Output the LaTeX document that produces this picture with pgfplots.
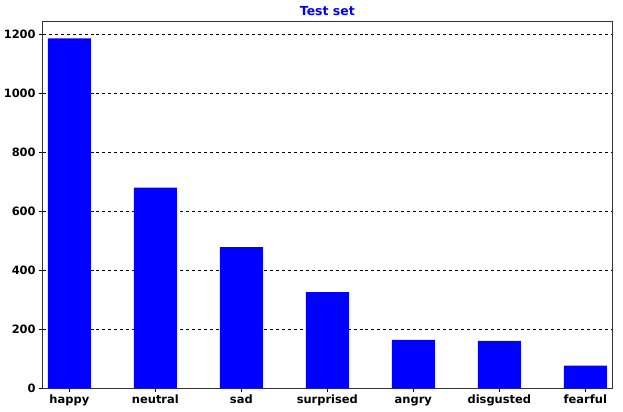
\documentclass[border=0pt]{standalone}
\usepackage{pgfplots}
\pgfplotsset{compat=1.18}
\usepackage{fontspec}
\setmainfont{DejaVu Sans}

\begin{document}
\begin{tikzpicture}
\useasboundingbox (-42.7bp,-23.7bp) rectangle (580.3bp,388.3bp);
\begin{axis}[
    at={(0,0)}, anchor=south west,
    scale only axis,
    width=569.3bp, height=367.3bp,
    xmin=-0.31, xmax=6.31,
    ymin=0, ymax=1244,
    xtick=data,
    xticklabels={happy,neutral,sad,surprised,angry,disgusted,fearful},
    ytick={0,200,400,600,800,1000,1200},
    xtick pos=bottom, ytick pos=left,
    ymajorgrids,
    grid style={black, dashed, line width=0.8pt},
    axis line style={black!80, line width=0.8pt},
    tick align=outside,
    major tick length=3.5bp,
    tick style={black, line width=0.8pt},
    tick label style={font=\fontsize{11.5}{13}\selectfont\bfseries},
    xticklabel style={text height=1.5ex, text depth=0.3ex},
    /pgf/number format/assume math mode=true,
    /pgf/number format/1000 sep={},
    scaled y ticks=false,
    title={\textbf{Test set}},
    title style={font=\fontsize{12.5}{14}\selectfont, color=blue, yshift=-4bp},
]
\addplot[ybar, bar width=0.5, fill=blue, draw=none, bar shift=0] coordinates {
    (0,1185) (1,680) (2,478) (3,326) (4,164) (5,161) (6,77)
};
\end{axis}
\end{tikzpicture}
\end{document}
